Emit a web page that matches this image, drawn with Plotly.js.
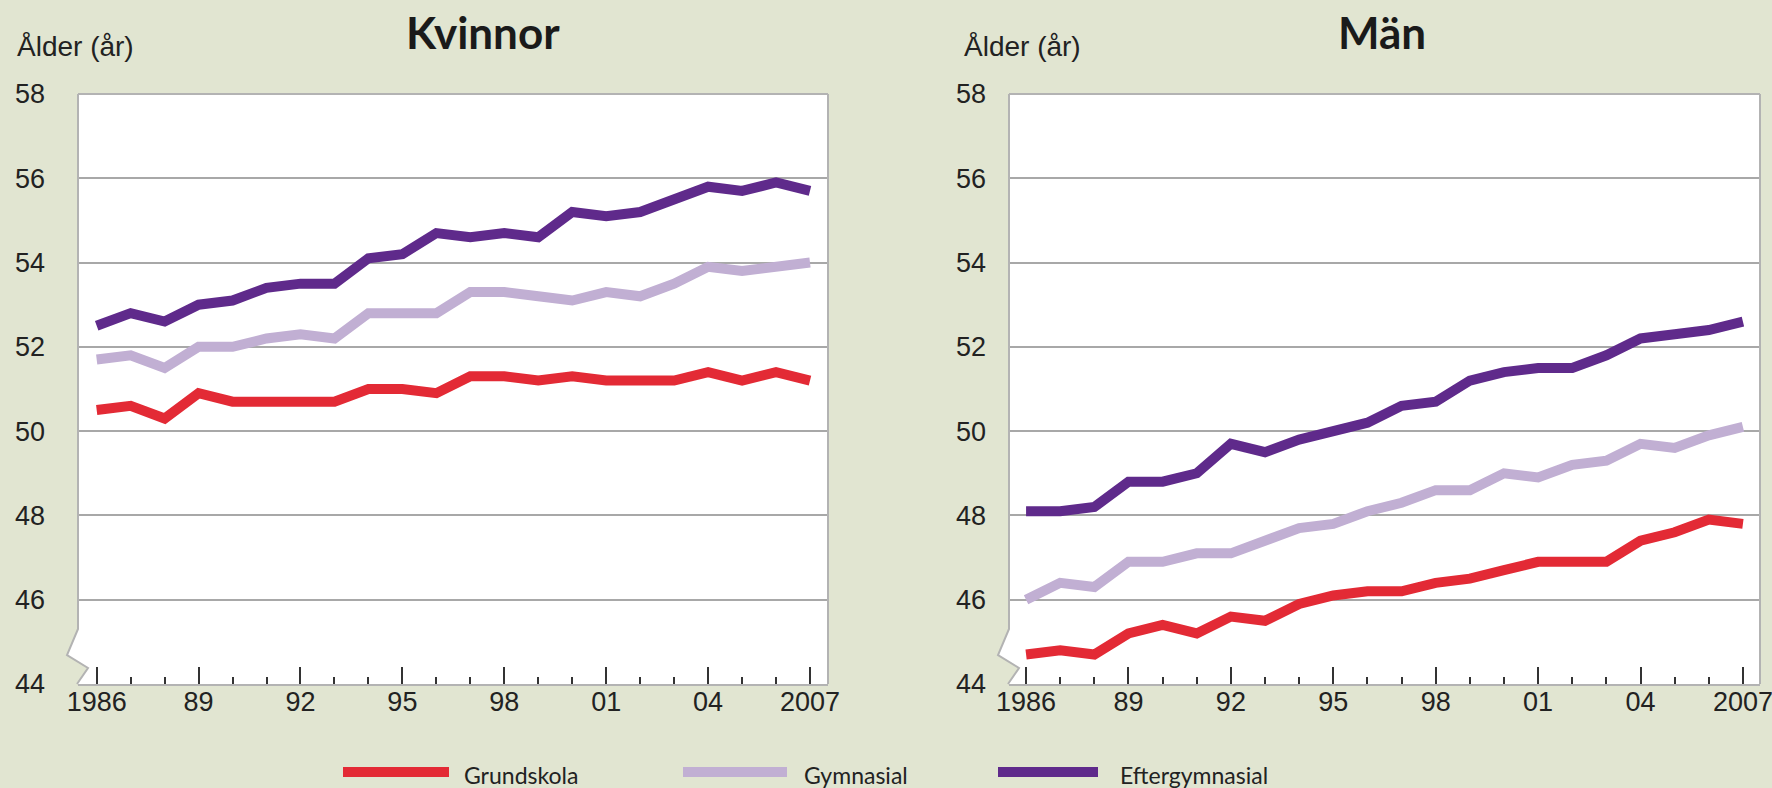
<!DOCTYPE html>
<html>
<head>
<meta charset="utf-8">
<script src="https://cdn.plot.ly/plotly-3.0.1.min.js"></script>
<style>
html,body{margin:0;padding:0;background:#e1e5d1;}
#chart{width:1772px;height:788px;}
</style>
</head>
<body>
<div id="chart"></div>
<script>
// ---- Data ----
const years = [1986,1987,1988,1989,1990,1991,1992,1993,1994,1995,1996,1997,1998,1999,2000,2001,2002,2003,2004,2005,2006,2007];

const seriesNames = ["Grundskola", "Gymnasial", "Eftergymnasial"];
const panelTitles = ["Kvinnor", "Män"];
const yAxisLabel = "Ålder (år)";

const kvinnorGrundskola     = [50.5,50.6,50.3,50.9,50.7,50.7,50.7,50.7,51.0,51.0,50.9,51.3,51.3,51.2,51.3,51.2,51.2,51.2,51.4,51.2,51.4,51.2];
const kvinnorGymnasial      = [51.7,51.8,51.5,52.0,52.0,52.2,52.3,52.2,52.8,52.8,52.8,53.3,53.3,53.2,53.1,53.3,53.2,53.5,53.9,53.8,53.9,54.0];
const kvinnorEftergymnasial = [52.5,52.8,52.6,53.0,53.1,53.4,53.5,53.5,54.1,54.2,54.7,54.6,54.7,54.6,55.2,55.1,55.2,55.5,55.8,55.7,55.9,55.7];

const manGrundskola     = [44.7,44.8,44.7,45.2,45.4,45.2,45.6,45.5,45.9,46.1,46.2,46.2,46.4,46.5,46.7,46.9,46.9,46.9,47.4,47.6,47.9,47.8];
const manGymnasial      = [46.0,46.4,46.3,46.9,46.9,47.1,47.1,47.4,47.7,47.8,48.1,48.3,48.6,48.6,49.0,48.9,49.2,49.3,49.7,49.6,49.9,50.1];
const manEftergymnasial = [48.1,48.1,48.2,48.8,48.8,49.0,49.7,49.5,49.8,50.0,50.2,50.6,50.7,51.2,51.4,51.5,51.5,51.8,52.2,52.3,52.4,52.6];

const xTickVals = [1986,1989,1992,1995,1998,2001,2004,2007];
const xTickText = ["1986","89","92","95","98","01","04","2007"];
const yTickVals = [44,46,48,50,52,54,56,58];

// ---- Styling ----
const W = 1772, H = 788;
const colors = ["#e32a35", "#c1afd3", "#5f2a8b"];
const bg = "#e1e5d1";
const gridCol = "#a8a8a8";
const frameCol = "#b3b3b3";
const tickFont = {family: "'Liberation Sans', Arial, sans-serif", size: 27, color: "#222"};
const textFont = "Lato, 'Open Sans', sans-serif";

const px = x => x / W;
const py = y => 1 - y / H;

// plot areas in pixels
const panels = [
  {l: 78, r: 828, t: 94, b: 684, xr: [1985.45, 2007.53], ystand: 32, titleX: 483, labX: 15},
  {l: 1009, r: 1760, t: 94, b: 684, xr: [1985.50, 2007.50], ystand: 22, titleX: 1382, labX: 962}
];

const data = [];
const panelSeries = [
  [kvinnorGrundskola, kvinnorGymnasial, kvinnorEftergymnasial],
  [manGrundskola, manGymnasial, manEftergymnasial]
];
panelSeries.forEach((ser, p) => {
  ser.forEach((vals, i) => {
    data.push({
      x: years, y: vals, type: "scatter", mode: "lines",
      name: seriesNames[i], showlegend: false,
      line: {color: colors[i], width: 10},
      xaxis: p === 0 ? "x" : "x2", yaxis: p === 0 ? "y" : "y2",
      hoverinfo: "skip"
    });
  });
});

function xaxis(p) {
  const P = panels[p];
  return {
    domain: [px(P.l), px(P.r)], range: P.xr, anchor: p === 0 ? "y" : "y2",
    tickmode: "array", tickvals: xTickVals, ticktext: xTickText,
    ticks: "inside", ticklen: 17, tickwidth: 2, tickcolor: "#333",
    minor: {tickmode: "linear", tick0: 1986, dtick: 1, ticks: "inside", ticklen: 7, tickwidth: 2, tickcolor: "#333", showgrid: false},
    showgrid: false, zeroline: false,
    showline: true, linecolor: frameCol, linewidth: 2,
    tickfont: tickFont, ticklabelstandoff: -7, ticklabeloverflow: "allow",
    fixedrange: true
  };
}
function yaxis(p) {
  const P = panels[p];
  return {
    domain: [py(P.b), py(P.t)], range: [44, 58], anchor: p === 0 ? "x" : "x2",
    tickmode: "array", tickvals: yTickVals,
    ticks: "", showgrid: true, gridcolor: gridCol, gridwidth: 2,
    zeroline: false, showline: false,
    tickfont: tickFont, ticklabelstandoff: P.ystand, ticklabeloverflow: "allow",
    fixedrange: true
  };
}

const shapes = [];
const annotations = [];
panels.forEach((P, p) => {
  const line = {color: frameCol, width: 2};
  shapes.push({type: "line", xref: "paper", yref: "paper", x0: px(P.l), x1: px(P.r), y0: py(P.t), y1: py(P.t), line, layer: "above"});
  shapes.push({type: "line", xref: "paper", yref: "paper", x0: px(P.r), x1: px(P.r), y0: py(P.t), y1: py(P.b), line, layer: "above"});
  const a = [P.l, P.b - 55], b = [P.l - 11, P.b - 29], c = [P.l + 10, P.b - 16], d = [P.l - 1, P.b];
  const cx = P.l, cy = b[1] + (c[1] - b[1]) * (P.l - b[0]) / (c[0] - b[0]);
  shapes.push({type: "path", xref: "paper", yref: "paper",
    path: `M ${px(a[0])} ${py(a[1])} L ${px(b[0])} ${py(b[1])} L ${px(cx)} ${py(cy)} Z`,
    fillcolor: "#ffffff", line: {width: 0}, layer: "above"});
  shapes.push({type: "path", xref: "paper", yref: "paper",
    path: `M ${px(cx)} ${py(cy)} L ${px(c[0])} ${py(c[1])} L ${px(d[0])} ${py(d[1])} L ${px(P.l)} ${py(P.b - 1)} Z`,
    fillcolor: bg, line: {width: 0}, layer: "above"});
  shapes.push({type: "path", xref: "paper", yref: "paper",
    path: `M ${px(P.l)} ${py(P.t)} L ${px(a[0])} ${py(a[1])} L ${px(b[0])} ${py(b[1])} L ${px(c[0])} ${py(c[1])} L ${px(d[0])} ${py(d[1])}`,
    line: {color: frameCol, width: 2}, layer: "above"});

  annotations.push({xref: "paper", yref: "paper", x: px(P.titleX), y: py(32), xanchor: "center", yanchor: "middle",
    text: "<b>" + panelTitles[p] + "</b>", showarrow: false, font: {family: textFont, size: 44, color: "#1a1a1a"}});
  annotations.push({xref: "paper", yref: "paper", x: px(P.labX), y: py(46), xanchor: "left", yanchor: "middle",
    text: yAxisLabel, showarrow: false, font: {family: tickFont.family, size: 28, color: "#222"}});
});

// legend
const legendItems = [
  {x0: 343, x1: 449, tx: 462},
  {x0: 683, x1: 787, tx: 802},
  {x0: 998, x1: 1098, tx: 1118}
];
legendItems.forEach((it, i) => {
  shapes.push({type: "line", xref: "paper", yref: "paper", x0: px(it.x0), x1: px(it.x1), y0: py(772), y1: py(772),
    line: {color: colors[i], width: 10}, layer: "above"});
  annotations.push({xref: "paper", yref: "paper", x: px(it.tx), y: py(775), xanchor: "left", yanchor: "middle",
    text: seriesNames[i], showarrow: false, font: {family: textFont, size: 23, color: "#222"}});
});

const layout = {
  width: W, height: H,
  margin: {l: 0, r: 0, t: 0, b: 0, autoexpand: false},
  paper_bgcolor: bg, plot_bgcolor: "#ffffff",
  showlegend: false,
  xaxis: xaxis(0), yaxis: yaxis(0),
  xaxis2: xaxis(1), yaxis2: yaxis(1),
  shapes, annotations
};

Plotly.newPlot("chart", data, layout, {staticPlot: true, displayModeBar: false});
</script>
</body>
</html>
